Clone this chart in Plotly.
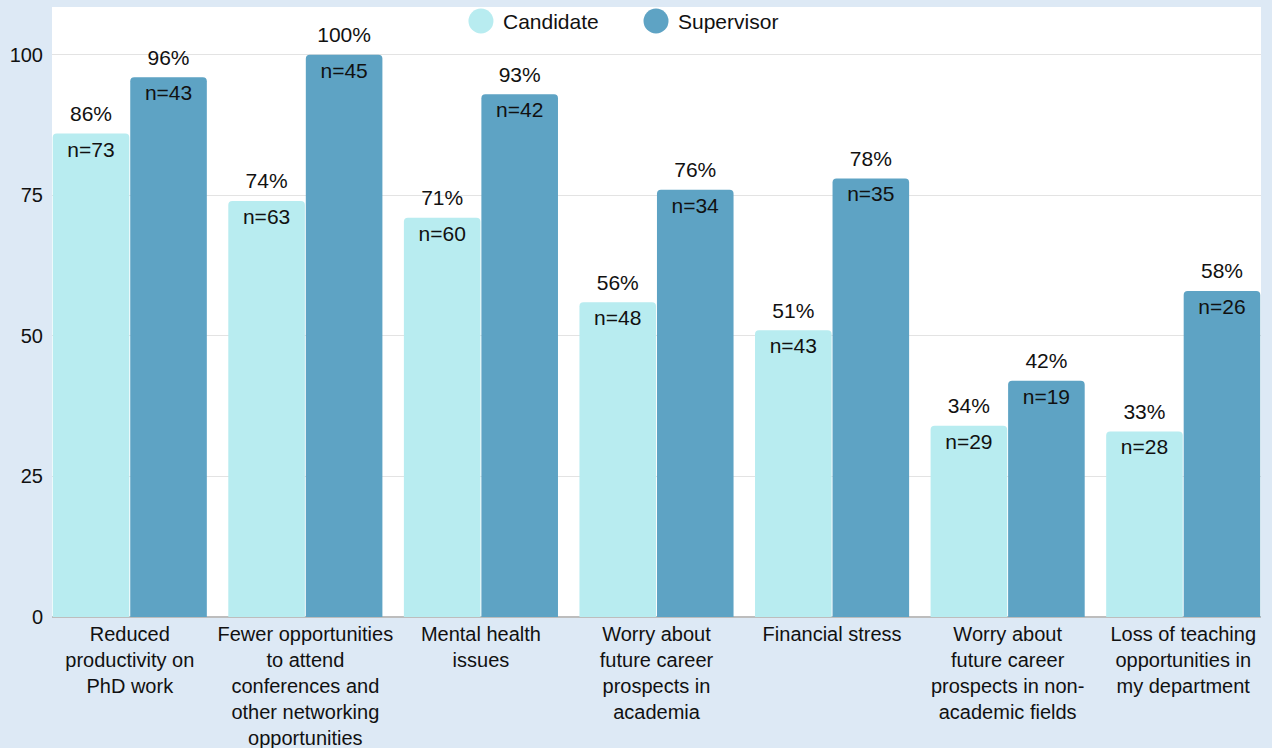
import plotly.graph_objects as go

categories = [
    "Reduced<br>productivity on<br>PhD work",
    "Fewer opportunities<br>to attend<br>conferences and<br>other networking<br>opportunities",
    "Mental health<br>issues",
    "Worry about<br>future career<br>prospects in<br>academia",
    "Financial stress",
    "Worry about<br>future career<br>prospects in non-<br>academic fields",
    "Loss of teaching<br>opportunities in<br>my department",
]
candidate_pct = [86, 74, 71, 56, 51, 34, 33]
candidate_n = [73, 63, 60, 48, 43, 29, 28]
supervisor_pct = [96, 100, 93, 76, 78, 42, 58]
supervisor_n = [43, 45, 42, 34, 35, 19, 26]
y_ticks = [0, 25, 50, 75, 100]

CAND_COLOR = "#b8ecf0"
SUP_COLOR = "#5ea3c4"
TEXT_COLOR = "#111111"
FONT = "Liberation Sans, Arial, sans-serif"

series = [
    ("Candidate", candidate_pct, candidate_n, CAND_COLOR),
    ("Supervisor", supervisor_pct, supervisor_n, SUP_COLOR),
]

fig = go.Figure()

for name, pct, n, color in series:
    fig.add_trace(go.Bar(
        name=name, x=categories, y=pct, offsetgroup=name,
        marker=dict(color=color, line=dict(width=0)),
        text=[f"n={v}" for v in n], textposition="inside",
        insidetextanchor="end", textangle=0,
        textfont=dict(family=FONT, size=21, color=TEXT_COLOR),
        showlegend=False, hoverinfo="skip",
    ))

# percentage labels above each bar (invisible marker pushes the text up)
for name, pct, n, color in series:
    fig.add_trace(go.Scatter(
        x=categories, y=pct, offsetgroup=name, mode="markers+text",
        marker=dict(size=10, opacity=0),
        text=[f"{v}%" for v in pct], textposition="top center",
        textfont=dict(family=FONT, size=21, color=TEXT_COLOR),
        showlegend=False, hoverinfo="skip", cliponaxis=False,
    ))

# legend: round swatches with labels along the top of the plot
legend_x = [0.3548, 0.4996]
for (name, pct, n, color), lx in zip(series, legend_x):
    fig.add_shape(
        type="circle", xref="paper", yref="paper",
        xsizemode="pixel", ysizemode="pixel",
        xanchor=lx, yanchor=0.977,
        x0=-12.5, x1=12.5, y0=-12.5, y1=12.5,
        fillcolor=color, line=dict(width=0), layer="above",
    )
    fig.add_annotation(
        xref="paper", yref="paper", x=lx, y=0.977, xshift=20,
        text=name, showarrow=False, xanchor="left", yanchor="middle",
        font=dict(family=FONT, size=21, color=TEXT_COLOR),
    )

fig.update_layout(
    width=1272, height=748,
    margin=dict(l=52, r=11, t=7, b=131),
    paper_bgcolor="#dde9f5", plot_bgcolor="#ffffff",
    barmode="group", scattermode="group",
    bargap=0.117, bargroupgap=0.012, barcornerradius=4,
    font=dict(family=FONT, size=21, color=TEXT_COLOR),
    showlegend=False,
)
fig.update_xaxes(range=[-0.443, 6.443], showgrid=False, ticks="",
                 tickfont=dict(size=20), showline=False, ticklabelstandoff=3,
                 automargin=False)
fig.update_yaxes(range=[0, 108.5], tickvals=y_ticks, showgrid=True,
                 gridcolor="#e3e3e3", gridwidth=1, zeroline=True,
                 zerolinecolor="#bdbdbd", zerolinewidth=1.5,
                 tickfont=dict(size=20), ticks="", ticklabelstandoff=8,
                 automargin=False)

fig.write_html("out.html")
